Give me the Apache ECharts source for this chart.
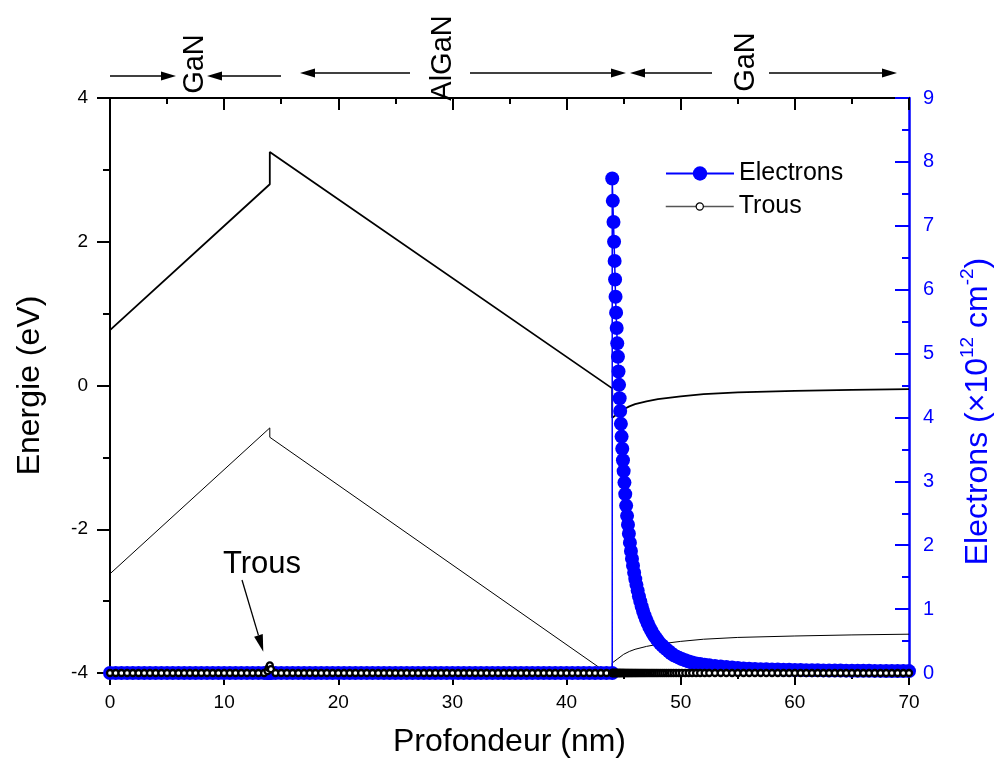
<!DOCTYPE html>
<html><head><meta charset="utf-8">
<script src="https://cdn.jsdelivr.net/npm/echarts@6/dist/echarts.min.js"></script>
<style>html,body{margin:0;padding:0;background:#fff}#c{width:997px;height:767px}</style>
</head><body><div id="c"></div>
<script>
// ---- Axis ticks ----
const depthMin = 0, depthMax = 70, depthStep = 10;
const energyMin = -4, energyMax = 4, energyStep = 2;
const elecMin = 0, elecMax = 9, elecStep = 1;

// ---- Conduction band (eV) ----
const ecDepth  = [0, 14, 14, 44, 44, 44.5, 45, 45.5, 46, 47, 48, 50, 52, 55, 60, 65, 70];
const ecEnergy = [0.77, 2.80, 3.25, -0.04, -0.45, -0.39, -0.33, -0.29, -0.26, -0.22, -0.19, -0.15, -0.12, -0.095, -0.075, -0.06, -0.05];

// ---- Valence band (eV) ----
const evDepth  = [0, 14, 14, 44, 44, 44.5, 45, 45.5, 46, 47, 48, 50, 52, 55, 60, 65, 70];
const evEnergy = [-2.62, -0.59, -0.72, -4.05, -3.86, -3.80, -3.74, -3.70, -3.67, -3.63, -3.60, -3.56, -3.53, -3.505, -3.485, -3.47, -3.46];

// ---- Carrier mesh (nm) ----
const depth = [
0,0.5,1,1.5,2,2.5,3,3.5,4,4.5,5,5.5,6,6.5,7,7.5,8,8.5,9,9.5,10,10.5,11,11.5,12,12.5,13,13.5,
13.8,13.9,14,14.1,
14.5,15,15.5,16,16.5,17,17.5,18,18.5,19,19.5,20,20.5,21,21.5,22,22.5,23,23.5,24,24.5,25,25.5,26,26.5,27,27.5,28,28.5,29,
29.5,30,30.5,31,31.5,32,32.5,33,33.5,34,34.5,35,35.5,36,36.5,37,37.5,38,38.5,39,39.5,40,40.5,41,41.5,42,42.5,43,43.5,44,
44,44.05,44.11,44.16,44.21,44.25,44.29,44.34,44.39,44.44,
44.5,44.55,44.6,44.65,44.7,44.76,44.82,44.88,44.94,45,
45.07,45.14,45.22,45.3,45.38,45.46,45.55,45.64,45.73,45.82,
45.92,46.02,46.12,46.23,46.34,46.46,46.58,46.7,46.83,46.96,
47.1,47.25,47.4,47.55,47.7,47.86,48.02,48.2,48.38,48.56,
48.75,48.95,49.15,49.37,49.6,49.84,50.1,50.4,50.7,51,
51.35,51.7,52.1,52.5,53,53.5,54,54.5,55,55.5,
56,56.5,57,57.5,58,58.5,59,59.5,60,60.5,61,61.5,62,62.5,63,63.5,64,64.5,65,65.5,66,66.5,67,67.5,68,68.5,69,69.5,70
];

// ---- Electrons (x10^12 cm^-2) ----
const electrons = [
0,0,0,0,0,0,0,0,0,0, 0,0,0,0,0,0,0,0,0,0, 0,0,0,0,0,0,0,0,0,0,
0,0,0,0,0,0,0,0,0,0, 0,0,0,0,0,0,0,0,0,0, 0,0,0,0,0,0,0,0,0,0,
0,0,0,0,0,0,0,0,0,0, 0,0,0,0,0,0,0,0,0,0, 0,0,0,0,0,0,0,0,0,0,
0,0,
7.74,7.39,7.06,6.75,6.45,6.16,5.89,5.64,5.40,5.16,
4.95,4.72,4.51,4.30,4.10,3.90,3.70,3.51,3.33,3.16,
2.98,2.80,2.62,2.46,2.32,2.18,2.04,1.91,1.79,1.68,
1.57,1.47,1.38,1.29,1.20,1.12,1.04,0.97,0.90,0.84,
0.78,0.72,0.67,0.62,0.58,0.54,0.50,0.46,0.43,0.40,
0.37,0.34,0.31,0.28,0.26,0.24,0.22,0.20,0.18,0.165,
0.15,0.14,0.13,0.12,0.11,0.10,0.092,0.085,0.078,0.072,
0.067,0.063,0.06,0.057,0.055,0.053,0.051,0.049,0.047,0.046,0.044,0.043,0.042,0.041,0.04,0.039,0.038,0.037,0.036,0.035,0.035,0.034,0.033,0.033,0.032,0.032,0.031,0.031,0.03
];

// ---- Trous (holes, same units) ----
const trous = [
0,0,0,0,0,0,0,0,0,0, 0,0,0,0,0,0,0,0,0,0, 0,0,0,0,0,0,0,0,
0.03,0.08,0.12,0.06,
0,0,0,0,0,0,0,0,0,0, 0,0,0,0,0,0,0,0,0,0, 0,0,0,0,0,0,0,0,0,0,
0,0,0,0,0,0,0,0,0,0, 0,0,0,0,0,0,0,0,0,0, 0,0,0,0,0,0,0,0,0,0,
0,0,0,0,0,0,0,0,0,0, 0,0,0,0,0,0,0,0,0,0, 0,0,0,0,0,0,0,0,0,0,
0,0,0,0,0,0,0,0,0,0, 0,0,0,0,0,0,0,0,0,0, 0,0,0,0,0,0,0,0,0,0,
0,0,0,0,0,0,0,0,0,0, 0,0,0,0,0,0,0,0,0,0, 0,0,0,0,0,0,0,0,0,0,
0,0,0,0,0,0,0,0,0
];

// ---- Text ----
const regionLabels = ['GaN', 'AlGaN', 'GaN'];
const seriesNames = ['Electrons', 'Trous'];
const xTitle = 'Profondeur (nm)';
const yTitle = 'Energie (eV)';

const FONT = 'Liberation Sans, Arial, sans-serif';
const BLUE = '#0000ff';
const zip = (xs, ys) => xs.map((x, i) => [x, ys[i]]);

function arrow(x1, y1, x2, y2, headLen, headW) {
  const dx = x2 - x1, dy = y2 - y1, L = Math.hypot(dx, dy);
  const ux = dx / L, uy = dy / L, px = -uy, py = ux;
  const bx = x2 - ux * headLen, by = y2 - uy * headLen;
  return [
    { type: 'line', silent: true, shape: { x1, y1, x2: bx, y2: by }, style: { stroke: '#000', lineWidth: 1.3 } },
    { type: 'polygon', silent: true, shape: { points: [[x2, y2], [bx + px * headW, by + py * headW], [bx - px * headW, by - py * headW]] }, style: { fill: '#000' } }
  ];
}
function vText(txt, x, y, size) {
  return { type: 'text', silent: true, x, y, rotation: Math.PI / 2,
    style: { text: txt, fill: '#000', font: size + 'px ' + FONT, align: 'center', verticalAlign: 'middle' } };
}

const graphics = [].concat(
  arrow(110, 76, 176, 76, 15, 4.5),
  arrow(281, 76, 207, 76, 15, 4.5),
  arrow(410, 73, 300, 73, 15, 4.5),
  arrow(470, 73, 626, 73, 15, 4.5),
  arrow(712, 73, 630, 73, 15, 4.5),
  arrow(769, 73, 897, 73, 15, 4.5),
  [vText(regionLabels[0], 195, 64, 29), vText(regionLabels[1], 443, 58, 29), vText(regionLabels[2], 746, 62, 29)],
  arrow(242, 580, 263.3, 651.7, 17, 4.5),
  [{ type: 'text', silent: true, x: 262, y: 564, style: { text: seriesNames[1], fill: '#000', font: '31px ' + FONT, align: 'center', verticalAlign: 'middle' } }]
);

const chart = echarts.init(document.getElementById('c'), null, { renderer: 'canvas' });
chart.setOption({
  animation: false,
  backgroundColor: '#fff',
  textStyle: { fontFamily: FONT },
  grid: { left: 110, top: 98, width: 799, height: 575, containLabel: false, outerBoundsMode: 'none' },
  legend: [
    { data: [seriesNames[0]], orient: 'vertical', left: 660, top: 156, itemWidth: 68, itemHeight: 18,
      textStyle: { fontSize: 25, color: '#000', fontFamily: FONT } },
    { data: [seriesNames[1]], orient: 'vertical', left: 660, top: 189, itemWidth: 68, itemHeight: 9,
      lineStyle: { color: '#555', width: 1.5 }, itemStyle: { borderWidth: 1.2 },
      textStyle: { fontSize: 25, color: '#000', fontFamily: FONT } }
  ],
  xAxis: [
    { type: 'value', min: depthMin, max: depthMax, interval: depthStep, position: 'bottom',
      name: xTitle, nameLocation: 'middle', nameGap: 53, nameMoveOverlap: false,
      nameTextStyle: { fontSize: 32, color: '#000', fontFamily: FONT },
      axisLine: { show: true, onZero: false, lineStyle: { color: '#000', width: 2 } },
      axisTick: { show: true, inside: false, length: 12, lineStyle: { color: '#000', width: 2 } },
      minorTick: { show: true, splitNumber: 2, length: 6, lineStyle: { color: '#000', width: 2 } },
      axisLabel: { fontSize: 19, color: '#000', margin: 20, fontFamily: FONT },
      splitLine: { show: false } },
    { type: 'value', min: depthMin, max: depthMax, interval: depthStep, position: 'top',
      axisLine: { show: true, onZero: false, lineStyle: { color: '#000', width: 2 } },
      axisTick: { show: true, inside: true, length: 12, lineStyle: { color: '#000', width: 2 } },
      minorTick: { show: true, splitNumber: 2, length: 6, lineStyle: { color: '#000', width: 2 } },
      axisLabel: { show: false }, splitLine: { show: false } }
  ],
  yAxis: [
    { type: 'value', min: energyMin, max: energyMax, interval: energyStep, position: 'left',
      name: yTitle, nameLocation: 'middle', nameGap: 64, nameRotate: 90, nameMoveOverlap: false,
      nameTextStyle: { fontSize: 32, color: '#000', fontFamily: FONT },
      axisLine: { show: true, onZero: false, lineStyle: { color: '#000', width: 2 } },
      axisTick: { show: true, inside: false, length: 13, lineStyle: { color: '#000', width: 2 } },
      minorTick: { show: true, splitNumber: 2, length: 7, lineStyle: { color: '#000', width: 2 } },
      axisLabel: { fontSize: 19, color: '#000', margin: 22, fontFamily: FONT },
      splitLine: { show: false } },
    { type: 'value', min: elecMin, max: elecMax, interval: elecStep, position: 'right',
      name: '{a|Electrons (\u00d710}{s|12}{a| cm}{s|-2}{a|)}', nameLocation: 'middle', nameGap: 49, nameRotate: 90, nameMoveOverlap: false,
      nameTextStyle: { color: BLUE, fontFamily: FONT, padding: [0, 52, 0, 0],
        rich: { a: { fontSize: 32, lineHeight: 36, color: BLUE, fontFamily: FONT, verticalAlign: 'bottom' },
                s: { fontSize: 19, lineHeight: 19, color: BLUE, fontFamily: FONT, verticalAlign: 'top' } } },
      axisLine: { show: true, onZero: false, lineStyle: { color: BLUE, width: 2.5 } },
      axisTick: { show: true, inside: true, length: 14, lineStyle: { color: BLUE, width: 2 } },
      minorTick: { show: true, splitNumber: 2, length: 7, lineStyle: { color: BLUE, width: 2 } },
      axisLabel: { fontSize: 20, color: BLUE, margin: 14, fontFamily: FONT },
      splitLine: { show: false } }
  ],
  series: [
    { name: 'Ec', type: 'line', xAxisIndex: 0, yAxisIndex: 0, data: zip(ecDepth, ecEnergy), showSymbol: false, symbol: 'none',
      lineStyle: { color: '#000', width: 1.8 }, z: 2, clip: true, silent: true },
    { name: 'Ev', type: 'line', xAxisIndex: 0, yAxisIndex: 0, data: zip(evDepth, evEnergy), showSymbol: false, symbol: 'none',
      lineStyle: { color: '#000', width: 1 }, z: 2, clip: true, silent: true },
    { name: seriesNames[0], type: 'line', xAxisIndex: 0, yAxisIndex: 1, data: zip(depth, electrons),
      symbol: 'circle', symbolSize: 14, showAllSymbol: true,
      itemStyle: { color: BLUE }, lineStyle: { color: BLUE, width: 1.5 }, z: 3, clip: false, silent: true },
    { name: seriesNames[1], type: 'line', xAxisIndex: 0, yAxisIndex: 1, data: zip(depth, trous),
      symbol: 'circle', symbolSize: 6, showAllSymbol: true,
      itemStyle: { color: '#fff', borderColor: '#000', borderWidth: 2.3 }, lineStyle: { color: '#000', width: 1 }, z: 4, clip: false, silent: true }
  ],
  graphic: graphics
});
</script></body></html>
